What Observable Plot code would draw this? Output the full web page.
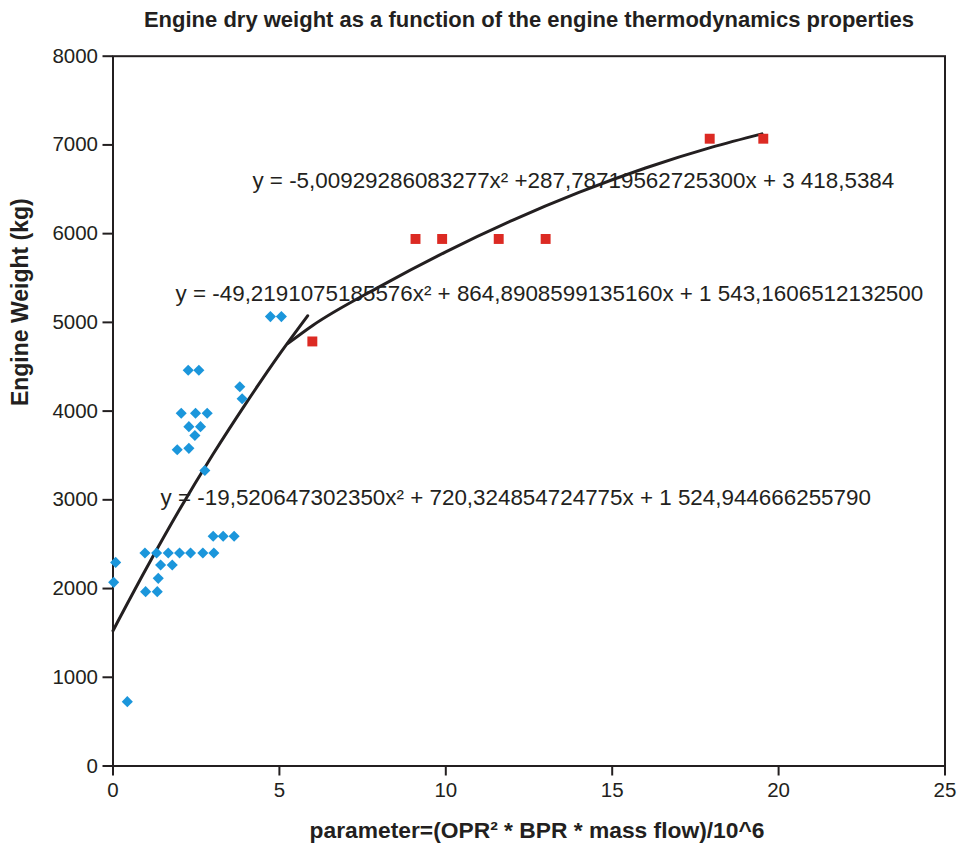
<!DOCTYPE html>
<html><head><meta charset="utf-8">
<script src="https://cdn.jsdelivr.net/npm/d3@7"></script>
<script src="https://cdn.jsdelivr.net/npm/@observablehq/plot@0.6"></script>
<style>
body{margin:0;background:#fff;}
#chart svg{display:block;}
</style></head><body><div id="chart"></div>
<script>
// Blue diamonds (engines, low parameter range)
const blueX = [2.26, 2.58, 3.81, 3.88, 2.05, 2.48, 2.83, 2.28, 2.63, 2.46, 1.93, 2.28, 2.76,
  3.01, 3.31, 3.64, 0.96, 1.31, 1.66, 2.00, 2.33, 2.70, 3.03, 0.08, 0.02, 1.43, 1.78, 1.36,
  0.98, 1.33, 0.43, 4.73, 5.06];
const blueY = [4460, 4460, 4275, 4140, 3975, 3975, 3975, 3825, 3825, 3725, 3565, 3580, 3330,
  2590, 2590, 2590, 2400, 2400, 2400, 2400, 2400, 2400, 2400, 2295, 2070, 2265, 2265, 2115,
  1965, 1965, 725, 5065, 5065];
// Red squares (engines, high parameter range)
const redX = [5.99, 9.09, 9.89, 11.59, 13.0, 17.93, 19.54];
const redY = [4785, 5940, 5940, 5940, 5940, 7070, 7070];
// Trend lines, points
const blueFitX = [0, 1, 2, 3, 4, 5, 5.85];
const blueFitY = [1525, 2225, 2890, 3510, 4090, 4640, 5075];
const redFitX = [5.25, 6, 8, 10, 12, 14, 16, 18, 19.5];
const redFitY = [4760, 4965, 5400, 5795, 6150, 6465, 6740, 6975, 7125];
// Tick values
const xTicks = [0, 5, 10, 15, 20, 25];
const yTicks = [0, 1000, 2000, 3000, 4000, 5000, 6000, 7000, 8000];
// Texts
const titleText = "Engine dry weight as a function of the engine thermodynamics properties";
const xLabel = "parameter=(OPR\u00B2 * BPR * mass flow)/10^6";
const yLabel = "Engine Weight (kg)";
const equations = [
  "y = -5,00929286083277x\u00B2 +287,78719562725300x + 3 418,5384",
  "y = -49,2191075185576x\u00B2 + 864,8908599135160x + 1 543,1606512132500",
  "y = -19,520647302350x\u00B2 + 720,324854724775x + 1 524,944666255790"
];
const eqX = [4.19, 1.88, 1.43];
const eqY = [6600, 5322, 3026];

const blue = blueX.map((x, i) => ({x, y: blueY[i]}));
const red = redX.map((x, i) => ({x, y: redY[i]}));
const blueFit = blueFitX.map((x, i) => ({x, y: blueFitY[i]}));
const redFit = redFitX.map((x, i) => ({x, y: redFitY[i]}));
const eqs = equations.map((t, i) => ({t, x: eqX[i], y: eqY[i]}));

const ink = "#231f20";
const font = "'Liberation Sans', Arial, Helvetica, sans-serif";

const chart = Plot.plot({
  width: 960, height: 844,
  marginLeft: 112.5, marginRight: 15.5, marginTop: 55.7, marginBottom: 78.5,
  style: {fontFamily: font, background: "white", color: ink, overflow: "visible"},
  x: {domain: [0, 25]},
  y: {domain: [0, 8000]},
  marks: [
    Plot.frame({stroke: ink, strokeWidth: 2}),
    Plot.axisX({ticks: xTicks, tickSize: 10, tickPadding: 6, fontSize: 20.5, label: null,
      stroke: ink, strokeWidth: 2, fill: ink, tickFormat: d => String(d)}),
    Plot.axisY({ticks: yTicks, tickSize: 10, tickPadding: 5, fontSize: 20.5, label: null,
      stroke: ink, strokeWidth: 2, fill: ink, tickFormat: d => String(d)}),
    Plot.line(blueFit, {x: "x", y: "y", stroke: ink, strokeWidth: 3, curve: "monotone-x"}),
    Plot.line(redFit, {x: "x", y: "y", stroke: ink, strokeWidth: 3, curve: "monotone-x"}),
    Plot.dot(blue, {x: "x", y: "y", symbol: "diamond2", r: 5, fill: "#1b96db", stroke: "none"}),
    Plot.dot(red, {x: "x", y: "y", symbol: "square", r: 5.6, fill: "#dc2a23", stroke: "none"}),
    Plot.text(eqs, {x: "x", y: "y", text: "t", textAnchor: "start", lineAnchor: "middle",
      fontSize: 22.4, fill: ink}),
    Plot.text([titleText], {frameAnchor: "top", dy: -36, lineAnchor: "middle",
      fontSize: 22, fontWeight: "bold", fill: ink}),
    Plot.text([xLabel], {frameAnchor: "bottom", dy: 65, dx: 8, lineAnchor: "middle",
      fontSize: 22.8, fontWeight: "bold", fill: ink}),
    Plot.text([yLabel], {frameAnchor: "left", dx: -92, dy: -5, rotate: -90, lineAnchor: "middle",
      fontSize: 23, fontWeight: "bold", fill: ink})
  ]
});
document.getElementById("chart").append(chart);
</script></body></html>
